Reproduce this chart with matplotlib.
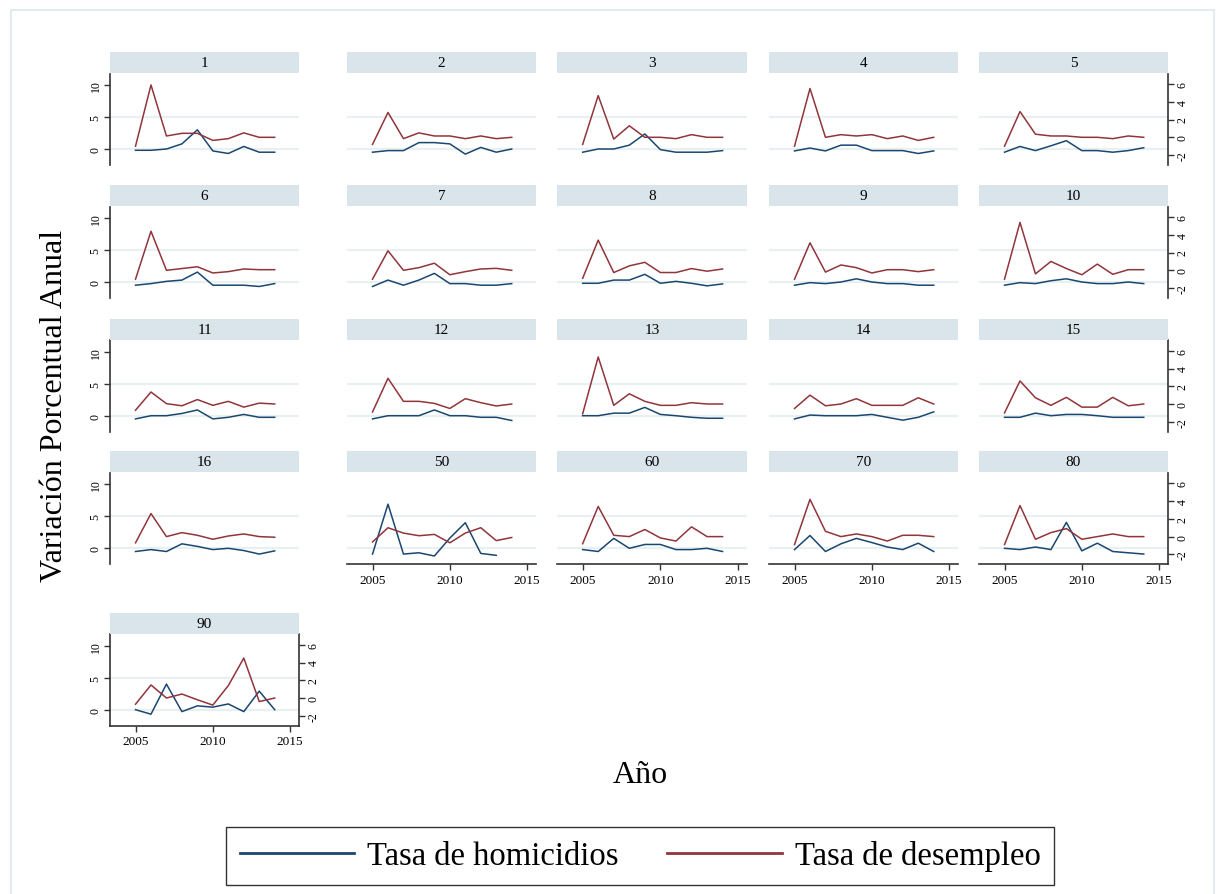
import numpy as np
import matplotlib
matplotlib.use("Agg")
import matplotlib.pyplot as plt
from matplotlib.lines import Line2D
from matplotlib.patches import Rectangle

# Datos (variacion porcentual anual por departamento)
anios = list(range(2005, 2015))
paneles = ["1", "2", "3", "4", "5", "6", "7", "8", "9", "10",
           "11", "12", "13", "14", "15", "16", "50", "60", "70", "80", "90"]

# eje izquierdo
homicidios = [
    [-0.2, -0.2, 0.0, 0.8, 3.0, -0.3, -0.7, 0.4, -0.5, -0.5],
    [-0.5, -0.25, -0.25, 1.0, 1.0, 0.8, -0.8, 0.25, -0.5, 0.0],
    [-0.5, 0.0, 0.0, 0.6, 2.35, -0.1, -0.5, -0.5, -0.5, -0.25],
    [-0.3, 0.15, -0.3, 0.6, 0.6, -0.25, -0.25, -0.25, -0.7, -0.3],
    [-0.5, 0.4, -0.25, 0.5, 1.3, -0.25, -0.25, -0.5, -0.25, 0.2],
    [-0.5, -0.25, 0.1, 0.3, 1.55, -0.5, -0.5, -0.5, -0.7, -0.25],
    [-0.7, 0.3, -0.5, 0.3, 1.35, -0.25, -0.25, -0.5, -0.5, -0.25],
    [-0.2, -0.2, 0.3, 0.3, 1.2, -0.2, 0.1, -0.2, -0.6, -0.3],
    [-0.5, -0.1, -0.25, 0.0, 0.5, 0.0, -0.25, -0.25, -0.5, -0.5],
    [-0.5, -0.1, -0.25, 0.2, 0.5, 0.0, -0.25, -0.25, 0.0, -0.25],
    [-0.5, 0.0, 0.0, 0.35, 0.9, -0.5, -0.25, 0.2, -0.25, -0.25],
    [-0.5, 0.0, 0.0, 0.0, 0.9, 0.0, 0.0, -0.25, -0.25, -0.75],
    [0.0, 0.0, 0.4, 0.4, 1.3, 0.2, 0.0, -0.25, -0.4, -0.4],
    [-0.5, 0.1, 0.0, 0.0, 0.0, 0.2, -0.25, -0.7, -0.25, 0.6],
    [-0.25, -0.25, 0.4, 0.0, 0.2, 0.2, 0.0, -0.25, -0.25, -0.25],
    [-0.5, -0.2, -0.5, 0.7, 0.3, -0.2, 0.0, -0.35, -0.9, -0.4],
    [-0.9, 6.9, -0.9, -0.7, -1.2, 1.6, 4.0, -0.8, -1.1, np.nan],
    [-0.2, -0.5, 1.55, 0.0, 0.6, 0.6, -0.2, -0.2, 0.0, -0.5],
    [-0.2, 2.0, -0.5, 0.7, 1.55, 0.9, 0.2, -0.2, 0.8, -0.5],
    [0.0, -0.2, 0.2, -0.2, 4.05, -0.4, 0.8, -0.5, -0.7, -0.9],
    [0.0, -0.7, 4.0, -0.3, 0.6, 0.4, 0.9, -0.3, 2.9, 0.0],
]

# eje derecho
desempleo = [
    [-1.0, 5.9, 0.15, 0.45, 0.45, -0.35, -0.15, 0.5, 0.0, 0.0],
    [-0.8, 2.8, -0.15, 0.5, 0.15, 0.15, -0.15, 0.15, -0.15, 0.0],
    [-0.8, 4.7, -0.2, 1.3, 0.0, 0.0, -0.15, 0.3, 0.0, 0.0],
    [-1.0, 5.5, 0.0, 0.3, 0.15, 0.3, -0.15, 0.15, -0.35, 0.0],
    [-1.0, 2.9, 0.35, 0.15, 0.15, 0.0, 0.0, -0.15, 0.15, 0.0],
    [-1.0, 4.4, 0.0, 0.2, 0.4, -0.3, -0.15, 0.15, 0.07, 0.07],
    [-1.0, 2.2, 0.0, 0.3, 0.8, -0.5, -0.15, 0.15, 0.22, 0.0],
    [-0.9, 3.4, -0.25, 0.5, 0.9, -0.25, -0.25, 0.2, -0.1, 0.15],
    [-1.0, 3.1, -0.2, 0.6, 0.3, -0.3, 0.07, 0.07, -0.15, 0.07],
    [-1.0, 5.4, -0.4, 1.0, 0.2, -0.5, 0.7, -0.45, 0.07, 0.07],
    [-0.7, 1.35, 0.04, -0.2, 0.5, -0.15, 0.3, -0.35, 0.1, 0.0],
    [-0.9, 2.9, 0.3, 0.3, 0.07, -0.5, 0.6, 0.15, -0.22, 0.0],
    [-1.1, 5.3, -0.15, 1.15, 0.3, -0.15, -0.15, 0.15, 0.0, 0.0],
    [-0.5, 1.0, -0.2, 0.0, 0.6, -0.15, -0.15, -0.15, 0.7, 0.0],
    [-1.0, 2.6, 0.7, -0.15, 0.75, -0.35, -0.35, 0.75, -0.2, 0.0],
    [-0.7, 2.6, 0.0, 0.45, 0.15, -0.3, 0.07, 0.3, 0.0, -0.07],
    [-0.6, 1.0, 0.4, 0.1, 0.25, -0.7, 0.4, 1.0, -0.45, -0.1],
    [-0.8, 3.4, 0.15, 0.0, 0.8, -0.15, -0.5, 1.1, 0.0, 0.0],
    [-0.9, 4.2, 0.6, 0.0, 0.3, 0.0, -0.5, 0.15, 0.15, 0.0],
    [-0.9, 3.5, -0.3, 0.45, 0.9, -0.3, 0.0, 0.3, 0.0, 0.0],
    [-0.7, 1.47, 0.0, 0.45, -0.2, -0.8, 1.4, 4.5, -0.4, 0.0],
]

azul = "#1a476f"
rojo = "#90353b"

plt.rcParams["font.family"] = ["Liberation Serif", "DejaVu Serif"]
plt.rcParams["axes.unicode_minus"] = False

W, H = 1226, 895
fig = plt.figure(figsize=(W / 100, H / 100), dpi=100)


def caja(x0, y0, x1, y1):
    # posicion en pixeles (y desde arriba)
    return fig.add_axes([x0 / W, 1 - y1 / H, (x1 - x0) / W, (y1 - y0) / H])


# marco exterior
fig.patches.append(Rectangle((11 / W, -0.05), 1203 / W, 1 - 11 / H + 0.05,
                             transform=fig.transFigure, fill=False,
                             edgecolor="#e3ecee", lw=1.5))

col_x = [(110, 299), (347, 536), (557, 747), (769, 958), (979, 1168)]
fila_cero = [150, 283, 416.7, 549.3, 710.7]

for k, nombre in enumerate(paneles):
    fila, col = divmod(k, 5)
    x0, x1 = col_x[col]
    top = fila_cero[fila] - 75.5
    bot = fila_cero[fila] + 16
    izq = col == 0
    der = col == 4 or nombre == "90"
    abajo = (fila == 3 and col > 0) or fila == 4

    ax = caja(x0, top, x1, bot)
    ax.set_xlim(2003.35, 2015.57)
    ax.set_ylim(-2.5, 11.8)
    for y in [0, 5]:
        ax.axhline(y, color="#e9f0f2", lw=1.6, zorder=0)
    ax.plot(anios, homicidios[k], color=azul, lw=1.1, zorder=3)
    for s in ["top", "right"]:
        ax.spines[s].set_visible(False)
    ax.spines["left"].set_visible(izq)
    ax.spines["bottom"].set_visible(abajo)
    for s in ["left", "bottom"]:
        ax.spines[s].set_color("#333333")
        ax.spines[s].set_linewidth(1.2)
    if izq:
        ax.set_yticks([0, 5, 10])
        ax.tick_params(axis="y", length=4, width=1, color="#333333",
                       labelsize=8.5, pad=2)
        for t in ax.get_yticklabels():
            t.set_rotation(90)
            t.set_va("center")
    else:
        ax.set_yticks([])
    if abajo:
        ax.set_xticks([2005, 2010, 2015])
        ax.tick_params(axis="x", length=4, width=1, color="#333333",
                       labelsize=9.5, pad=3)
    else:
        ax.set_xticks([])

    ax2 = ax.twinx()
    ax2.set_ylim(-3.12, 7.19)
    ax2.plot(anios, desempleo[k], color=rojo, lw=1.1, zorder=2)
    for s in ["top", "left", "bottom"]:
        ax2.spines[s].set_visible(False)
    ax2.spines["right"].set_visible(der)
    ax2.spines["right"].set_color("#333333")
    ax2.spines["right"].set_linewidth(1.2)
    if der:
        ax2.set_yticks([-2, 0, 2, 4, 6])
        ax2.tick_params(axis="y", length=4, width=1, color="#333333",
                        labelsize=8.5, pad=2)
        for t in ax2.get_yticklabels():
            t.set_rotation(90)
            t.set_va("center")
    else:
        ax2.set_yticks([])

    tira = caja(x0, top - 21.5, x1, top - 0.5)
    tira.set_facecolor("#d9e5eb")
    tira.set_xticks([])
    tira.set_yticks([])
    for s in tira.spines.values():
        s.set_visible(False)
    tira.text(0.5, 0.5, nombre, ha="center", va="center", fontsize=11,
              transform=tira.transAxes)

fig.text(55 / W, 1 - 406 / H, "Variación Porcentual Anual", rotation=90,
         ha="center", va="center", fontsize=23)
fig.text(640 / W, 1 - 776 / H, "Año", ha="center", va="center", fontsize=23)

manijas = [Line2D([], [], color=azul, lw=2),
           Line2D([], [], color=rojo, lw=2)]
ley = fig.legend(manijas, ["Tasa de homicidios", "Tasa de desempleo"],
                 loc="center", bbox_to_anchor=(640 / W, 1 - 857 / H), ncol=2,
                 fontsize=23.5, frameon=True, fancybox=False,
                 handlelength=3.5, handletextpad=0.4, columnspacing=1.5,
                 borderpad=0.4)
ley.get_frame().set_edgecolor("black")
ley.get_frame().set_linewidth(1.0)

fig.savefig("out.png", dpi=100)
